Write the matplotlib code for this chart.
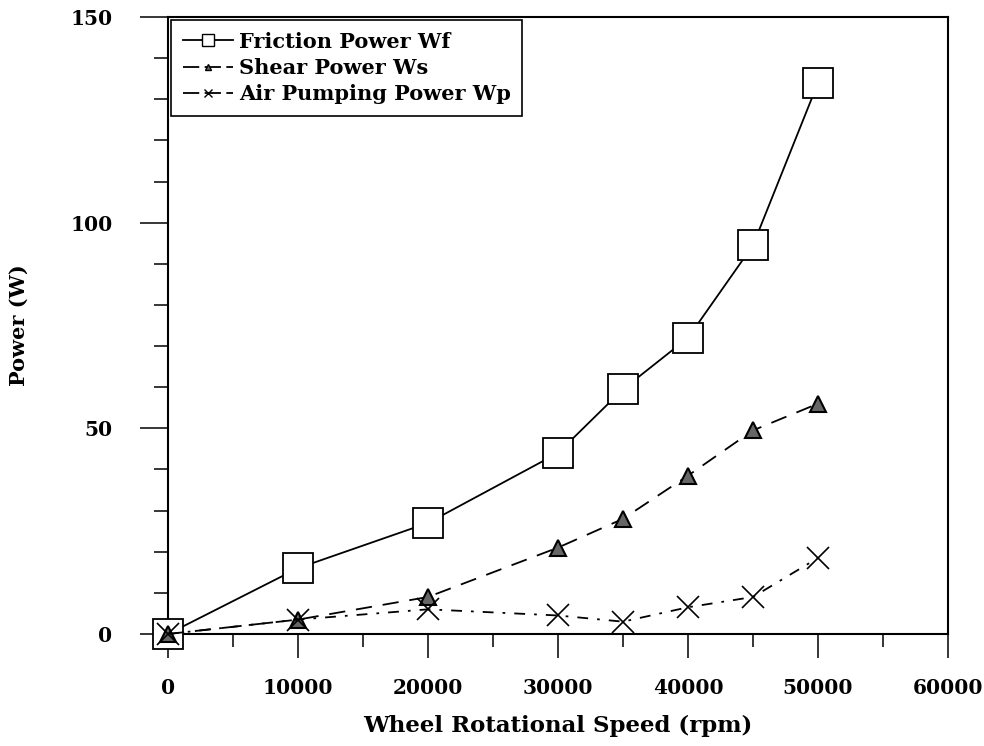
import matplotlib.pyplot as plt
from matplotlib.lines import Line2D
from matplotlib.ticker import MultipleLocator

# data
speed = [0, 10000, 20000, 30000, 35000, 40000, 45000, 50000]
friction_power = [0, 16, 27, 44, 59.5, 72, 94.5, 134]
shear_power = [0, 3.5, 9, 21, 28, 38.5, 49.5, 56]
air_pumping_power = [0, 3.5, 6, 4.5, 3, 6.5, 9, 18.5]

labels = ['Friction Power Wf', 'Shear Power Ws', 'Air Pumping Power Wp']

font = 'DejaVu Serif'

fig = plt.figure(figsize=(9.84, 7.46), dpi=100)
ax = fig.add_axes([168 / 984, 1 - 634 / 746, 780 / 984, 617 / 746])

# curves
ax.plot(speed, friction_power, color='black', lw=1.3, marker='s', markersize=21,
        markerfacecolor='white', markeredgecolor='black', markeredgewidth=1.3,
        zorder=3, clip_on=False)
ax.plot(speed, shear_power, color='black', lw=1.3, dashes=(9, 6), marker='^', markersize=12,
        markerfacecolor='0.4', markeredgecolor='black', markeredgewidth=1.5,
        zorder=4, clip_on=False)
ax.plot(speed, air_pumping_power, color='black', lw=1.3, dashes=(6, 5, 1.5, 5), marker='x',
        markersize=16, markeredgewidth=1.2, zorder=5, clip_on=False)

ax.set_xlim(0, 60000)
ax.set_ylim(0, 150)

ax.xaxis.set_major_locator(MultipleLocator(10000))
ax.xaxis.set_minor_locator(MultipleLocator(5000))
ax.yaxis.set_major_locator(MultipleLocator(50))
ax.yaxis.set_minor_locator(MultipleLocator(10))

ax.tick_params(axis='x', which='major', direction='out', length=17, width=1.1, pad=15)
ax.tick_params(axis='x', which='minor', direction='out', length=9, width=1.1)
ax.tick_params(axis='y', which='major', direction='out', length=20, width=1.1, pad=20)
ax.tick_params(axis='y', which='minor', direction='out', length=10, width=1.1)

for lab in ax.get_xticklabels() + ax.get_yticklabels():
    lab.set_fontfamily(font)
    lab.set_fontweight('bold')
    lab.set_fontsize(14.5)

for sp in ax.spines.values():
    sp.set_linewidth(1.5)

ax.set_xlabel('Wheel Rotational Speed (rpm)', fontfamily=font, fontweight='bold',
              fontsize=16.5, labelpad=12)
ax.set_ylabel('Power (W)', fontfamily=font, fontweight='bold', fontsize=15, labelpad=30)

# legend with small markers
handles = [
    Line2D([], [], color='black', lw=1.3, marker='s', markersize=8,
           markerfacecolor='white', markeredgecolor='black'),
    Line2D([], [], color='black', lw=1.3, dashes=(9, 3), marker='^', markersize=5,
           markerfacecolor='0.4', markeredgecolor='black'),
    Line2D([], [], color='black', lw=1.3, dashes=(9, 3), marker='x', markersize=6),
]
leg = ax.legend(handles, labels, loc='upper left', bbox_to_anchor=(0, 1), borderaxespad=0.15,
                fancybox=False, framealpha=1, edgecolor='black', handlelength=2.4,
                handletextpad=0.3, labelspacing=0.3, borderpad=0.55,
                prop={'family': font, 'weight': 'bold', 'size': 15})
leg.get_frame().set_linewidth(1.2)

fig.savefig('out.png', dpi=100)
